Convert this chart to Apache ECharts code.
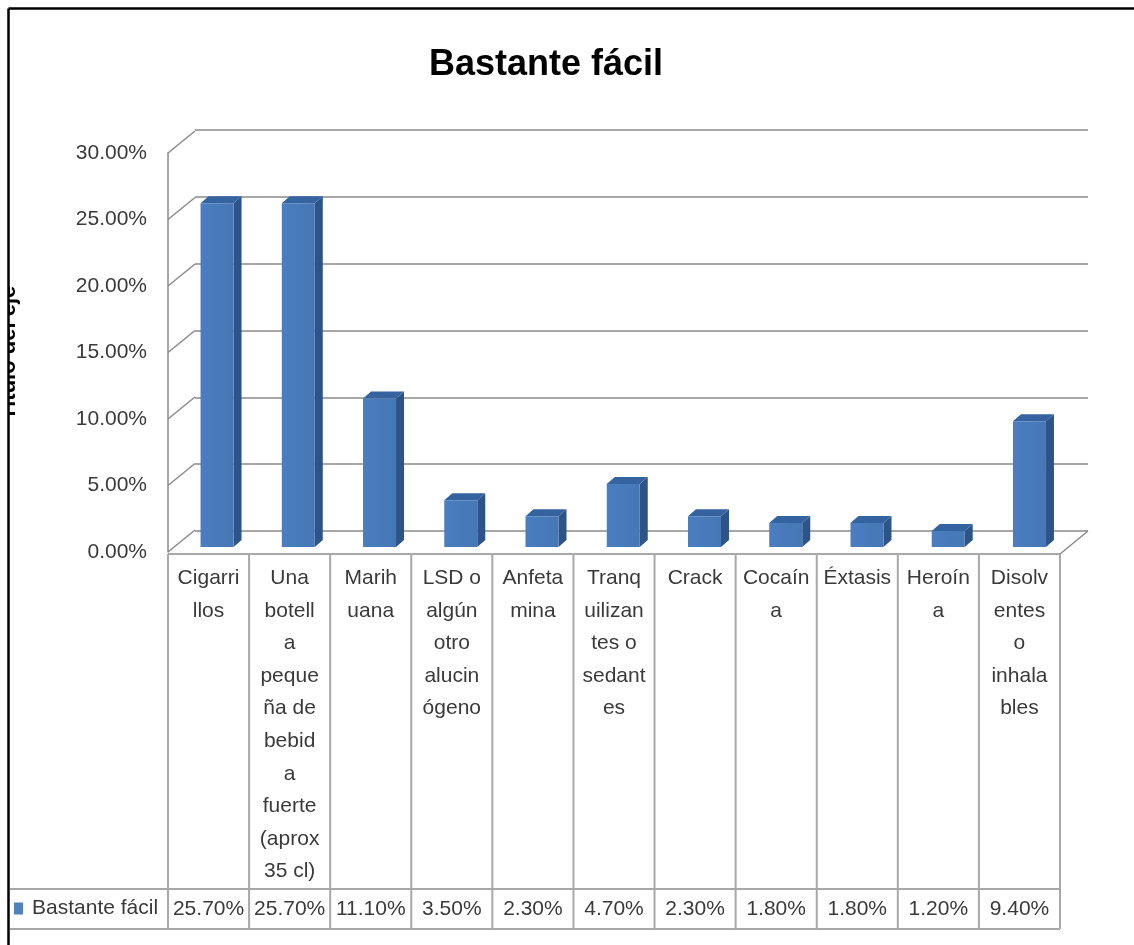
<!DOCTYPE html>
<html><head><meta charset="utf-8">
<script src="https://cdn.jsdelivr.net/npm/echarts/dist/echarts.min.js"></script>
<style>html,body{margin:0;padding:0;background:#fff}#c{width:1134px;height:945px}</style>
</head><body><div id="c"></div>
<script>
// ---- data ----
const chartTitle = 'Bastante fácil';
const seriesName = 'Bastante fácil';
const yAxisTitle = 'Título del eje';
const categories = [
  'Cigarri\nllos',
  'Una\nbotell\na\npeque\nña de\nbebid\na\nfuerte\n(aprox\n35 cl)',
  'Marih\nuana',
  'LSD o\nalgún\notro\nalucin\nógeno',
  'Anfeta\nmina',
  'Tranq\nuilizan\ntes o\nsedant\nes',
  'Crack',
  'Cocaín\na',
  'Éxtasis',
  'Heroín\na',
  'Disolv\nentes\no\ninhala\nbles'
];
const values = [25.7, 25.7, 11.1, 3.5, 2.3, 4.7, 2.3, 1.8, 1.8, 1.2, 9.4];
const yTicks = [0, 5, 10, 15, 20, 25, 30];

// ---- styles ----
const FONT = '"Liberation Sans", Arial, sans-serif';
const TXT = '#3a3a3a';
const GRIDC = '#8a8a8a';
const TABLEC = '#a8a8a8';
const fmt = v => v.toFixed(2) + '%';

const chart = echarts.init(document.getElementById('c'));

const DX = 27, DY = -22;         // wall depth offset
const TABLE_ROW = 889, TABLE_BOTTOM = 929;

const option = {
  animation: false,
  backgroundColor: '#fff',
  textStyle: { fontFamily: FONT },
  title: {
    text: chartTitle, left: 424, top: 42,
    textStyle: { fontSize: 36, fontWeight: 'bold', color: '#000', fontFamily: FONT }
  },
  legend: {
    data: [{ name: seriesName, icon: 'rect' }],
    left: 14, top: 898, itemWidth: 9, itemHeight: 12, padding: 0,
    selectedMode: false,
    textStyle: { fontSize: 21, color: TXT, fontFamily: FONT, padding: [0, 0, 0, 4] }
  },
  grid: [
    { left: 168, top: 153, width: 892, height: 399 },
    { left: 195, top: 130, width: 893, height: 401 },
    { left: 168, top: 145.6, width: 892, height: 401.4 }
  ],
  xAxis: [0, 1, 2].map(g => ({ type: 'category', gridIndex: g, data: categories, show: false })),
  yAxis: [
    {
      gridIndex: 0, type: 'value', min: 0, max: 30, interval: 5,
      axisLabel: { formatter: fmt, margin: 21, fontSize: 21, color: TXT, fontFamily: FONT },
      axisLine: { show: true, lineStyle: { color: GRIDC, width: 1.5 } },
      axisTick: { show: false }, splitLine: { show: false }
    },
    {
      gridIndex: 1, type: 'value', min: 0, max: 30, interval: 5,
      axisLabel: { show: false }, axisLine: { show: false }, axisTick: { show: false },
      splitLine: { show: true, lineStyle: { color: GRIDC, width: 1.5 } }
    },
    { gridIndex: 2, type: 'value', min: 0, max: 30, interval: 5, show: false, splitLine: { show: false } }
  ],
  series: [
    {
      type: 'custom', name: 'walls', xAxisIndex: 0, yAxisIndex: 0, silent: true, clip: false,
      data: yTicks.map(t => [0, t]),
      renderItem: function (params, api) {
        const cs = params.coordSys;
        const y = api.coord([0, api.value(1)])[1];
        const ch = [{
          type: 'line', shape: { x1: cs.x, y1: y, x2: cs.x + DX, y2: y + DY },
          style: { stroke: GRIDC, lineWidth: 1.5 }
        }];
        if (api.value(1) === 0) {
          const xr = cs.x + cs.width, yb = cs.y + cs.height + 2;
          ch.push({ type: 'line', shape: { x1: xr, y1: yb, x2: xr + 28, y2: yb - 23 },
            style: { stroke: GRIDC, lineWidth: 1.5 } });
        }
        return { type: 'group', children: ch };
      }
    },
    {
      type: 'custom', name: 'table', xAxisIndex: 0, yAxisIndex: 0, silent: true, clip: false,
      data: values.map((v, i) => [i, v]),
      renderItem: function (params, api) {
        const cs = params.coordSys;
        const i = api.value(0), v = api.value(1);
        const c = api.coord([i, 0])[0];
        const band = api.size([1, 0])[0];
        const x0 = c - band / 2, x1 = c + band / 2;
        const top = cs.y + cs.height + 2;
        const ls = { stroke: TABLEC, lineWidth: 2 };
        const ch = [
          { type: 'line', shape: { x1: x0, y1: top, x2: x0, y2: TABLE_BOTTOM }, style: ls },
          { type: 'line', shape: { x1: x0, y1: top, x2: x1, y2: top }, style: ls },
          { type: 'line', shape: { x1: x0, y1: TABLE_ROW, x2: x1, y2: TABLE_ROW }, style: ls },
          { type: 'line', shape: { x1: x0, y1: TABLE_BOTTOM, x2: x1, y2: TABLE_BOTTOM }, style: ls },
          { type: 'text', style: { text: categories[i], x: c, y: top + 8, align: 'center', verticalAlign: 'top',
              textAlign: 'center', textVerticalAlign: 'top',
              fontSize: 21, fontFamily: FONT, lineHeight: 32.6, fill: TXT } },
          { type: 'text', style: { text: fmt(v), x: c, y: (TABLE_ROW + TABLE_BOTTOM) / 2, align: 'center', verticalAlign: 'middle',
              textAlign: 'center', textVerticalAlign: 'middle',
              fontSize: 21, fontFamily: FONT, fill: TXT } }
        ];
        if (i === categories.length - 1) {
          ch.push({ type: 'line', shape: { x1: x1, y1: top, x2: x1, y2: TABLE_BOTTOM }, style: ls });
        }
        if (i === 0) {
          ch.push({ type: 'line', shape: { x1: 10, y1: TABLE_ROW, x2: x0, y2: TABLE_ROW }, style: ls });
          ch.push({ type: 'line', shape: { x1: 10, y1: TABLE_BOTTOM, x2: x0, y2: TABLE_BOTTOM }, style: ls });
        }
        return { type: 'group', children: ch };
      }
    },
    {
      type: 'custom', name: seriesName, xAxisIndex: 2, yAxisIndex: 2, clip: false, z: 5,
      itemStyle: { color: '#4F81BD' },
      encode: { x: 0, y: 1 },
      data: values.map((v, i) => [i, v]),
      renderItem: function (params, api) {
        const i = api.value(0), v = api.value(1);
        const base = api.coord([i, 0]);
        const topP = api.coord([i, v]);
        const w = 33, dx = 8, dy = -7;
        const xl = base[0] - 8 + i * 0.15;
        const xr = xl + w, yt = topP[1], yb = base[1];
        return {
          type: 'group', children: [
            { type: 'polygon', shape: { points: [[xr, yt], [xr + dx, yt + dy], [xr + dx, yb + dy], [xr, yb]] },
              style: { fill: '#2D5488' } },
            { type: 'polygon', shape: { points: [[xl, yt], [xl + dx, yt + dy], [xr + dx, yt + dy], [xr, yt]] },
              style: { fill: '#3563A0' } },
            { type: 'rect', shape: { x: xl, y: yt, width: w, height: yb - yt },
              style: { fill: new echarts.graphic.LinearGradient(0, 0, 1, 0, [
                { offset: 0, color: '#4A7EC0' }, { offset: 1, color: '#4677B5' }]) } }
          ]
        };
      }
    }
  ],
  graphic: [
    { type: 'text', z: 50, x: 9, y: 353, rotation: Math.PI / 2,
      style: { text: yAxisTitle, fontSize: 22, fontWeight: 'bold', fontFamily: FONT, fill: '#000',
        align: 'center', verticalAlign: 'middle', textAlign: 'center', textVerticalAlign: 'middle' } },
    { type: 'rect', z: 60, shape: { x: 0, y: 0, width: 8, height: 945 }, style: { fill: '#fff' } },
    { type: 'rect', z: 60, shape: { x: 0, y: 0, width: 1134, height: 8 }, style: { fill: '#fff' } },
    { type: 'line', z: 70, shape: { x1: 8.5, y1: 8.5, x2: 8.5, y2: 945 }, style: { stroke: '#000', lineWidth: 2.5 } },
    { type: 'line', z: 70, shape: { x1: 8.5, y1: 8.5, x2: 1134, y2: 8.5 }, style: { stroke: '#000', lineWidth: 2.5 } }
  ]
};
chart.setOption(option);
</script>
</body></html>
